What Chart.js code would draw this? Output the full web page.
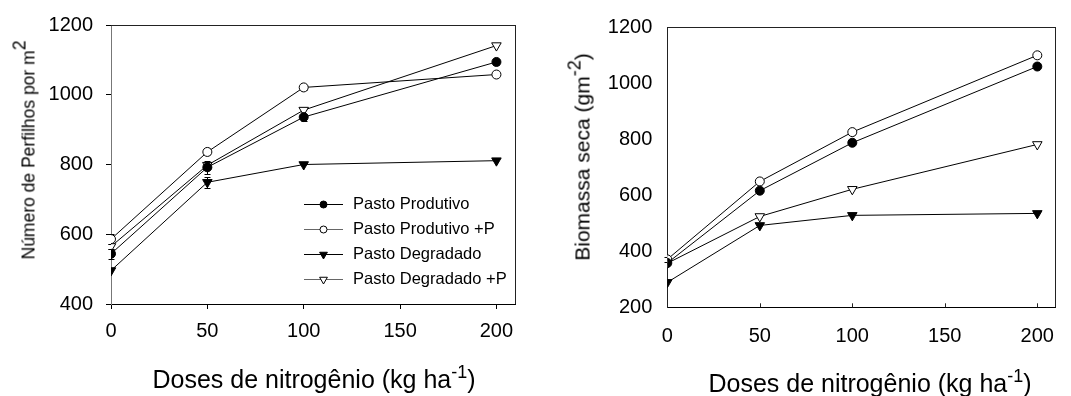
<!DOCTYPE html>
<html>
<head>
<meta charset="utf-8">
<script src="https://cdn.jsdelivr.net/npm/chart.js@4.4.1/dist/chart.umd.min.js"></script>
<style>
html, body { margin: 0; padding: 0; background: #fff; }
#wrap { position: relative; width: 1071px; height: 396px; overflow: hidden; font-family: "Liberation Sans", Arial, sans-serif; color: #000; }
.box { position: absolute; top: 0; }
.title { position: absolute; white-space: nowrap; }
.sup { position: relative; line-height: 0; }
</style>
</head>
<body>
<div id="wrap">
  <div class="box" style="left:0"><canvas id="chartPerfilhos" width="540" height="396"></canvas></div>
  <div class="box" style="left:540px"><canvas id="chartBiomassa" width="531" height="396"></canvas></div>

  <div class="title" style="left:29px;top:150px;font-size:17.5px;line-height:17px;transform:translate(-50%,-50%) rotate(-90deg);">Número de Perfilhos por m<span class="sup" style="top:-9px">2</span></div>
  <div class="title" style="left:314px;top:367px;font-size:25px;line-height:25px;transform:translateX(-50%);">Doses de nitrogênio (kg ha<span class="sup" style="top:-10px;font-size:18px">-1</span>)</div>

  <div class="title" style="left:582px;top:157px;font-size:21px;line-height:21px;transform:translate(-50%,-50%) rotate(-90deg);">Biomassa seca (gm<span class="sup" style="top:-9px;font-size:18px">-2</span>)</div>
  <div class="title" style="left:870px;top:371px;font-size:25px;line-height:25px;transform:translateX(-50%);">Doses de nitrogênio (kg ha<span class="sup" style="top:-10px;font-size:18px">-1</span>)</div>
</div>

<script>
// doses de N (eixo x)
const doses = [0, 50, 100, 200];
const xTicks = [0, 50, 100, 150, 200];
const seriesNames = ['Pasto Produtivo', 'Pasto Produtivo +P', 'Pasto Degradado', 'Pasto Degradado +P'];

// número de perfilhos por m2
const perfilhosProdutivo  = [544, 792, 936, 1094];
const perfilhosProdutivoP = [586, 836, 1021, 1058];
const perfilhosDegradado  = [496, 749, 800, 811];
const perfilhosDegradadoP = [565, 798, 956, 1141];
const perfilhosProdutivoErr  = [15, 18, 10, 8];
const perfilhosProdutivoPErr = [14, 10, 8, 0];
const perfilhosDegradadoErr  = [0, 15, 0, 0];
const perfilhosDegradadoPErr = [8, 0, 0, 0];
const perfilhosTicks = [400, 600, 800, 1000, 1200];

// biomassa seca (g m-2)
const biomassaProdutivo  = [358, 616, 787, 1059];
const biomassaProdutivoP = [371, 649, 825, 1099];
const biomassaDegradado  = [289, 492, 528, 535];
const biomassaDegradadoP = [357, 524, 621, 781];
const biomassaProdutivoPErr = [8, 0, 10, 0];
const biomassaTicks = [200, 400, 600, 800, 1000, 1200];

const FONT = '"Liberation Sans", Arial, sans-serif';
Chart.defaults.color = '#000';
Chart.defaults.font.family = FONT;

// estilos dos marcadores
const markers = [
    { pointStyle: 'circle',   fill: '#000', rotation: 0,   radius: 4.5, legendLine: '#000' },
    { pointStyle: 'circle',   fill: '#fff', rotation: 0,   radius: 4.5, legendLine: '#666' },
    { pointStyle: 'triangle', fill: '#000', rotation: 180, radius: 5.5, legendLine: '#000' },
    { pointStyle: 'triangle', fill: '#fff', rotation: 180, radius: 5.5, legendLine: '#666' }
];

function makeDataset(i, values, errors) {
    const m = markers[i];
    return {
        label: seriesNames[i],
        data: doses.map((d, k) => ({ x: d, y: values[k] })),
        errors: errors || [],
        borderColor: '#000',
        borderWidth: 1,
        pointStyle: m.pointStyle,
        pointRotation: m.rotation,
        pointRadius: m.radius,
        pointBorderWidth: 1,
        pointBorderColor: '#000',
        pointBackgroundColor: m.fill,
        legendLine: m.legendLine,
        tension: 0,
        fill: false
    };
}

// barras de erro
const errorBars = {
    id: 'errorBars',
    beforeDatasetsDraw(chart) {
        const { ctx, scales: { x, y } } = chart;
        ctx.save();
        ctx.strokeStyle = '#000';
        ctx.lineWidth = 1;
        chart.data.datasets.forEach(ds => {
            ds.errors.forEach((e, i) => {
                if (!e) return;
                const px = Math.round(x.getPixelForValue(ds.data[i].x)) + 0.5;
                const top = Math.round(y.getPixelForValue(ds.data[i].y + e)) + 0.5;
                const bot = Math.round(y.getPixelForValue(ds.data[i].y - e)) + 0.5;
                ctx.beginPath();
                ctx.moveTo(px, top); ctx.lineTo(px, bot);
                ctx.moveTo(px - 3, top); ctx.lineTo(px + 3, top);
                ctx.moveTo(px - 3, bot); ctx.lineTo(px + 3, bot);
                ctx.stroke();
            });
        });
        ctx.restore();
    }
};

// moldura (topo e direita) e ticks internos
const frame = {
    id: 'frame',
    afterDraw(chart, args, opts) {
        const { ctx, chartArea: a } = chart;
        ctx.save();
        ctx.strokeStyle = opts.color || '#000';
        ctx.lineWidth = 1;
        ctx.beginPath();
        ctx.moveTo(a.left, Math.round(a.top) + 0.5);
        ctx.lineTo(a.right, Math.round(a.top) + 0.5);
        ctx.moveTo(Math.round(a.right) - 0.5, a.top);
        ctx.lineTo(Math.round(a.right) - 0.5, a.bottom);
        if (opts.innerTicks) {
            const xs = chart.scales.x;
            xs.ticks.forEach(t => {
                if (t.value === 0) return;
                const px = Math.round(xs.getPixelForValue(t.value)) + 0.5;
                ctx.moveTo(px, a.bottom);
                ctx.lineTo(px, a.bottom - 4);
            });
        }
        ctx.stroke();
        ctx.restore();
    }
};

// legenda dentro da área do gráfico
const insideLegend = {
    id: 'insideLegend',
    afterDraw(chart, args, opts) {
        if (!opts.show) return;
        const { ctx } = chart;
        ctx.save();
        ctx.font = '16.5px ' + FONT;
        ctx.textBaseline = 'middle';
        chart.data.datasets.forEach((ds, i) => {
            const y = opts.top + i * opts.rowHeight;
            ctx.strokeStyle = ds.legendLine;
            ctx.lineWidth = 1;
            ctx.beginPath();
            ctx.moveTo(opts.left, Math.round(y) + 0.5);
            ctx.lineTo(opts.left + opts.lineLength, Math.round(y) + 0.5);
            ctx.stroke();
            ctx.fillStyle = ds.pointBackgroundColor;
            ctx.strokeStyle = '#000';
            Chart.helpers.drawPoint(ctx, {
                pointStyle: ds.pointStyle,
                rotation: ds.pointRotation,
                radius: ds.pointStyle === 'circle' ? 3.5 : 4.5,
                borderWidth: 1
            }, opts.left + opts.lineLength / 2, y + 0.5);
            ctx.fillStyle = '#000';
            ctx.fillText(ds.label, opts.left + opts.lineLength + opts.gap, y);
        });
        ctx.restore();
    }
};

function makeChart(id, datasets, cfg) {
    new Chart(document.getElementById(id), {
        type: 'line',
        data: { datasets: datasets },
        options: {
            responsive: false,
            animation: false,
            events: [],
            layout: { padding: cfg.padding },
            plugins: {
                legend: { display: false },
                tooltip: { enabled: false },
                frame: { color: '#222', innerTicks: cfg.innerTicks },
                insideLegend: cfg.legend || { show: false }
            },
            scales: {
                x: {
                    type: 'linear',
                    min: 0,
                    max: 210,
                    afterBuildTicks: s => { s.ticks = xTicks.map(v => ({ value: v })); },
                    afterFit: s => { s.height = cfg.xHeight; },
                    ticks: { font: { size: 20 }, color: '#000', padding: cfg.xPad, maxRotation: 0, callback: v => String(v) },
                    grid: { drawOnChartArea: false, drawTicks: cfg.outerTicks, tickLength: 5, color: '#000' },
                    border: { display: true, color: '#000' }
                },
                y: {
                    min: cfg.yTicks[0],
                    max: cfg.yTicks[cfg.yTicks.length - 1],
                    afterBuildTicks: s => { s.ticks = cfg.yTicks.map(v => ({ value: v })); },
                    afterFit: s => { s.width = cfg.yWidth; },
                    ticks: { font: { size: 20 }, color: '#000', padding: cfg.yPad, callback: v => String(v) },
                    grid: { drawOnChartArea: false, drawTicks: cfg.outerTicks, tickLength: 5, color: '#000' },
                    border: { display: true, color: cfg.yAxisColor }
                }
            }
        },
        plugins: [errorBars, frame, insideLegend]
    });
}

makeChart('chartPerfilhos', [
    makeDataset(0, perfilhosProdutivo, perfilhosProdutivoErr),
    makeDataset(1, perfilhosProdutivoP, perfilhosProdutivoPErr),
    makeDataset(2, perfilhosDegradado, perfilhosDegradadoErr),
    makeDataset(3, perfilhosDegradadoP, perfilhosDegradadoPErr)
], {
    padding: { top: 21.7, right: 24.3, left: 0, bottom: 0 },
    xHeight: 92, yWidth: 111, xPad: 10.5, yPad: 13,
    yTicks: perfilhosTicks, outerTicks: true, innerTicks: false, yAxisColor: '#777',
    legend: { show: true, left: 304, top: 204, rowHeight: 25, lineLength: 39, gap: 10 }
});

makeChart('chartBiomassa', [
    makeDataset(0, biomassaProdutivo),
    makeDataset(1, biomassaProdutivoP, biomassaProdutivoPErr),
    makeDataset(2, biomassaDegradado),
    makeDataset(3, biomassaDegradadoP)
], {
    padding: { top: 24.3, right: 0, left: 0, bottom: 0 },
    xHeight: 88.7, yWidth: 127.3, xPad: 16.7, yPad: 15,
    yTicks: biomassaTicks, outerTicks: false, innerTicks: true, yAxisColor: '#222'
});
</script>
</body>
</html>
